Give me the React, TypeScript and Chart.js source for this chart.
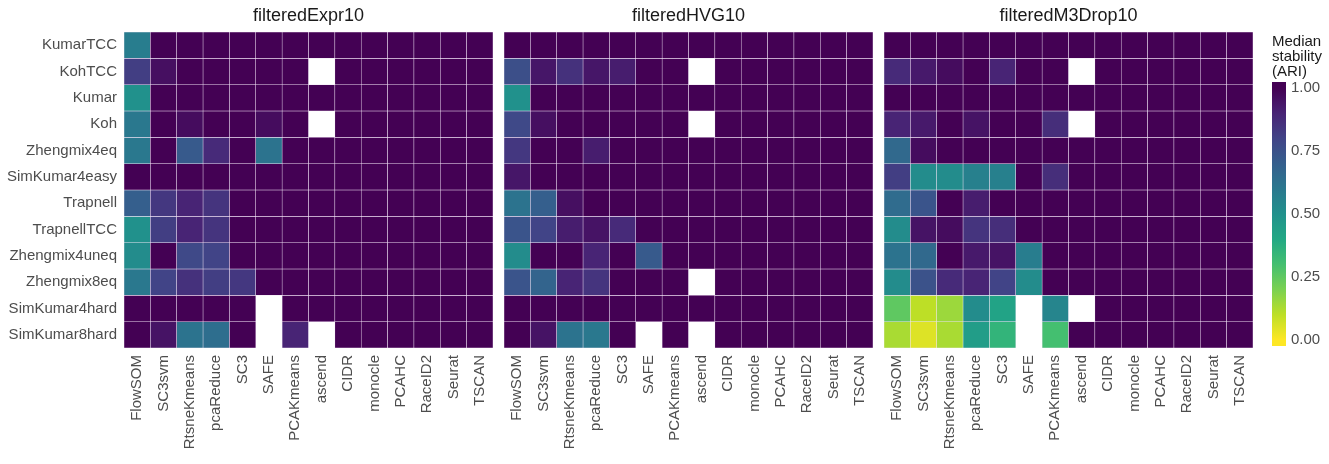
import React, { useEffect, useRef } from 'react';
import { Chart, registerables } from 'chart.js';

Chart.register(...registerables);

const FONT = '"Liberation Sans", Arial, Helvetica, sans-serif';
Chart.defaults.font.family = FONT;

// ---------- data ----------
const methods = ['FlowSOM', 'SC3svm', 'RtsneKmeans', 'pcaReduce', 'SC3', 'SAFE', 'PCAKmeans', 'ascend', 'CIDR', 'monocle', 'PCAHC', 'RaceID2', 'Seurat', 'TSCAN'];
const rowNames = ['KumarTCC', 'KohTCC', 'Kumar', 'Koh', 'Zhengmix4eq', 'SimKumar4easy', 'Trapnell', 'TrapnellTCC', 'Zhengmix4uneq', 'Zhengmix8eq', 'SimKumar4hard', 'SimKumar8hard'];
const panelTitles = ['filteredExpr10', 'filteredHVG10', 'filteredM3Drop10'];
const N = null;

const exprValues = [
  [0.58, 1, 1, 1, 1, 1, 1, 1, 1, 1, 1, 1, 1, 1],
  [0.82, 0.96, 1, 1, 1, 1, 1, N, 1, 1, 1, 1, 1, 1],
  [0.5, 1, 1, 1, 1, 1, 1, 1, 1, 1, 1, 1, 1, 1],
  [0.6, 1, 0.97, 1, 1, 0.97, 1, N, 1, 1, 1, 1, 1, 1],
  [0.6, 1, 0.72, 0.88, 1, 0.62, 1, 1, 1, 1, 1, 1, 1, 1],
  [1, 1, 1, 1, 1, 1, 1, 1, 1, 1, 1, 1, 1, 1],
  [0.7, 0.84, 0.9, 0.85, 1, 1, 1, 1, 1, 1, 1, 1, 1, 1],
  [0.5, 0.82, 0.9, 0.85, 1, 1, 1, 1, 1, 1, 1, 1, 1, 1],
  [0.52, 1, 0.78, 0.8, 1, 1, 1, 1, 1, 1, 1, 1, 1, 1],
  [0.6, 0.8, 0.86, 0.82, 0.84, 1, 1, 1, 1, 1, 1, 1, 1, 1],
  [1, 1, 1, 1, 1, N, 1, 1, 1, 1, 1, 1, 1, 1],
  [1, 0.95, 0.62, 0.64, 1, N, 0.9, N, 1, 1, 1, 1, 1, 1],
];

const hvgValues = [
  [1, 1, 1, 1, 1, 1, 1, 1, 1, 1, 1, 1, 1, 1],
  [0.76, 0.94, 0.86, 0.94, 0.92, 1, 1, N, 1, 1, 1, 1, 1, 1],
  [0.5, 1, 1, 1, 1, 1, 1, 1, 1, 1, 1, 1, 1, 1],
  [0.78, 0.96, 1, 1, 1, 1, 1, N, 1, 1, 1, 1, 1, 1],
  [0.84, 1, 1, 0.92, 1, 1, 1, 1, 1, 1, 1, 1, 1, 1],
  [0.94, 1, 1, 1, 1, 1, 1, 1, 1, 1, 1, 1, 1, 1],
  [0.62, 0.7, 0.96, 1, 1, 1, 1, 1, 1, 1, 1, 1, 1, 1],
  [0.74, 0.8, 0.92, 0.95, 0.88, 1, 1, 1, 1, 1, 1, 1, 1, 1],
  [0.52, 1, 1, 0.9, 1, 0.72, 1, 1, 1, 1, 1, 1, 1, 1],
  [0.74, 0.68, 0.9, 0.85, 1, 1, 1, N, 1, 1, 1, 1, 1, 1],
  [1, 1, 1, 1, 1, 1, 1, 1, 1, 1, 1, 1, 1, 1],
  [1, 0.95, 0.62, 0.6, 1, N, 1, N, 1, 1, 1, 1, 1, 1],
];

const m3dropValues = [
  [1, 1, 1, 1, 1, 1, 1, 1, 1, 1, 1, 1, 1, 1],
  [0.88, 0.93, 0.97, 1, 0.9, 1, 1, N, 1, 1, 1, 1, 1, 1],
  [1, 1, 1, 1, 1, 1, 1, 1, 1, 1, 1, 1, 1, 1],
  [0.9, 0.93, 1, 0.95, 1, 1, 0.87, N, 1, 1, 1, 1, 1, 1],
  [0.66, 0.97, 1, 1, 1, 1, 1, 1, 1, 1, 1, 1, 1, 1],
  [0.82, 0.52, 0.52, 0.57, 0.57, 1, 0.87, 1, 1, 1, 1, 1, 1, 1],
  [0.65, 0.74, 1, 0.92, 1, 1, 1, 1, 1, 1, 1, 1, 1, 1],
  [0.52, 0.95, 0.97, 0.85, 0.87, 1, 1, 1, 1, 1, 1, 1, 1, 1],
  [0.62, 0.66, 1, 0.93, 0.95, 0.58, 1, 1, 1, 1, 1, 1, 1, 1],
  [0.52, 0.75, 0.88, 0.9, 0.8, 0.52, 1, 1, 1, 1, 1, 1, 1, 1],
  [0.25, 0.1, 0.15, 0.52, 0.42, N, 0.55, N, 1, 1, 1, 1, 1, 1],
  [0.13, 0.05, 0.13, 0.45, 0.35, N, 0.3, 1, 1, 1, 1, 1, 1, 1],
];

const legendTitle = ['Median', 'stability', '(ARI)'];
const legendTicks = [0, 0.25, 0.5, 0.75, 1];

// ---------- colour ----------
const VIRIDIS = ['#440154', '#482475', '#414487', '#355f8d', '#2a788e', '#21918c', '#22a884', '#44bf70', '#7ad151', '#bddf26', '#fde725'];

function hexToRgb(h: string) {
  const n = parseInt(h.slice(1), 16);
  return [(n >> 16) & 255, (n >> 8) & 255, n & 255];
}

function viridis(t: number) {
  const c = Math.max(0, Math.min(1, t)) * (VIRIDIS.length - 1);
  const i = Math.min(Math.floor(c), VIRIDIS.length - 2);
  const f = c - i;
  const a = hexToRgb(VIRIDIS[i]);
  const b = hexToRgb(VIRIDIS[i + 1]);
  const m = a.map((x, k) => Math.round(x + (b[k] - x) * f));
  return `rgb(${m[0]},${m[1]},${m[2]})`;
}

function cellColor(v: number | null) {
  return v == null ? 'rgba(255,255,255,0)' : viridis(1 - v);
}

// ---------- heatmap panel ----------
type PanelProps = {
  title: string;
  values: (number | null)[][];
  left: number;
  width: number;
  padLeft: number;
  padRight: number;
  yWidth: number;
};

function HeatPanel({ title, values, left, width, padLeft, padRight, yWidth }: PanelProps) {
  const ref = useRef<HTMLCanvasElement>(null);
  useEffect(() => {
    if (!ref.current) return;
    const datasets = rowNames.map((name, r) => ({
      label: name,
      data: values[r].map((v) => (v == null ? null : [r, r + 1])),
      backgroundColor: values[r].map((v) => cellColor(v)),
      borderColor: 'rgba(240,225,245,0.85)',
      borderWidth: 0.55,
      borderSkipped: false,
      grouped: false,
      barPercentage: 1,
      categoryPercentage: 1,
    }));
    const chart = new Chart(ref.current, {
      type: 'bar',
      data: { labels: methods, datasets: datasets as any },
      options: {
        responsive: false,
        animation: false,
        devicePixelRatio: 1,
        layout: { padding: { left: padLeft, right: padRight, top: 0, bottom: 0 } },
        plugins: {
          legend: { display: false },
          tooltip: { enabled: false },
          title: {
            display: true,
            text: title,
            fullSize: false,
            color: '#1a1a1a',
            font: { size: 18, family: FONT, weight: 'normal', lineHeight: 1.2 },
            padding: { top: 5, bottom: 5.4 },
          },
        },
        scales: {
          x: {
            type: 'category',
            grid: { display: false, drawTicks: false },
            border: { display: false },
            ticks: {
              autoSkip: false,
              minRotation: 90,
              maxRotation: 90,
              padding: 7,
              color: '#4d4d4d',
              font: { size: 15, family: FONT },
            },
            afterFit: (s: any) => {
              s.height = 116;
              s.paddingLeft = 0;
              s.paddingRight = 0;
            },
          },
          y: {
            type: 'linear',
            reverse: true,
            min: 0,
            max: rowNames.length,
            display: yWidth > 0,
            grid: { display: false, drawTicks: false },
            border: { display: false },
            ticks: {
              padding: 7,
              color: '#4d4d4d',
              font: { size: 15, family: FONT },
              callback: (v: any) => rowNames[Math.floor(Number(v))] ?? '',
            },
            afterBuildTicks: (s: any) => {
              s.ticks = rowNames.map((_, i) => ({ value: i + 0.5 }));
            },
            afterFit: (s: any) => {
              if (yWidth > 0) s.width = yWidth;
              s.paddingTop = 0;
              s.paddingBottom = 0;
            },
          },
        },
      } as any,
    });
    return () => chart.destroy();
  }, []);
  return (
    <canvas
      ref={ref}
      width={width}
      height={464}
      style={{ position: 'absolute', left, top: 0, width, height: 464, display: 'block' }}
    />
  );
}

// ---------- colour bar ----------
function ColorBar({ left, width }: { left: number; width: number }) {
  const ref = useRef<HTMLCanvasElement>(null);
  useEffect(() => {
    if (!ref.current) return;
    const chart = new Chart(ref.current, {
      type: 'bar',
      data: {
        labels: [''],
        datasets: [
          {
            data: [[-0.025, 1.025]] as any,
            backgroundColor: (ctx: any) => {
              const c = ctx.chart;
              const y = c.scales.y;
              if (!c.chartArea || !y) return VIRIDIS[0];
              const g = c.ctx.createLinearGradient(0, y.getPixelForValue(0), 0, y.getPixelForValue(1));
              for (let i = 0; i <= 20; i++) g.addColorStop(i / 20, viridis(1 - i / 20));
              return g;
            },
            borderWidth: 0,
            barPercentage: 1,
            categoryPercentage: 1,
          },
        ],
      },
      options: {
        responsive: false,
        animation: false,
        devicePixelRatio: 1,
        layout: { padding: { left: 12, right: 0, top: 34, bottom: 118 } },
        plugins: {
          legend: { display: false },
          tooltip: { enabled: false },
          title: {
            display: true,
            text: legendTitle,
            align: 'start',
            color: '#1a1a1a',
            font: { size: 15, family: FONT, weight: 'normal', lineHeight: 1.0 },
            padding: { top: 0, bottom: 3 },
          },
        },
        scales: {
          x: { display: false },
          y: {
            position: 'right',
            min: -0.025,
            max: 1.025,
            grid: { display: false, drawTicks: false },
            border: { display: false },
            ticks: {
              padding: 5,
              color: '#4d4d4d',
              font: { size: 15, family: FONT },
              callback: (v: any) => Number(v).toFixed(2),
            },
            afterBuildTicks: (s: any) => {
              s.ticks = legendTicks.map((v) => ({ value: v }));
            },
            afterFit: (s: any) => {
              s.width = 43;
              s.paddingTop = 0;
              s.paddingBottom = 0;
            },
          },
        },
      } as any,
    });
    return () => chart.destroy();
  }, []);
  return (
    <canvas
      ref={ref}
      width={width}
      height={464}
      style={{ position: 'absolute', left, top: 0, width, height: 464, display: 'block' }}
    />
  );
}

export default function App() {
  return (
    <div style={{ position: 'absolute', left: 0, top: 0, width: 1329, height: 464, background: '#ffffff', overflow: 'hidden' }}>
      <HeatPanel title={panelTitles[0]} values={exprValues} left={0} width={500} padLeft={0} padRight={7} yWidth={124} />
      <HeatPanel title={panelTitles[1]} values={hvgValues} left={500} width={380} padLeft={4} padRight={7} yWidth={0} />
      <HeatPanel title={panelTitles[2]} values={m3dropValues} left={880} width={380} padLeft={4} padRight={7} yWidth={0} />
      <ColorBar left={1260} width={69} />
    </div>
  );
}
